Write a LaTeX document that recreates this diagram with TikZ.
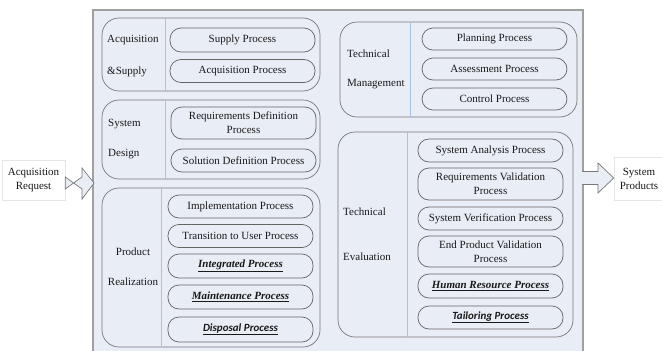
\documentclass[tikz,border=0pt]{standalone}
\usepackage{fontspec}
\setmainfont{Liberation Serif}
\newfontfamily\calib{Carlito}
\definecolor{bgblue}{RGB}{233,237,246}
\definecolor{divblue}{RGB}{168,194,228}
\definecolor{grpgray}{RGB}{120,120,120}
\definecolor{pillgray}{RGB}{100,100,100}
\definecolor{txt}{RGB}{25,25,25}
\tikzset{
  pill/.style={draw=pillgray, line width=0.7pt, rounded corners=11pt, minimum width=145pt,
    minimum height=23pt, inner sep=0pt, align=center, text=txt,
    font=\fontsize{11}{14}\selectfont},
  tallpill/.style={pill, minimum height=32pt},
  grp/.style={draw=grpgray, line width=0.7pt, rounded corners=17pt},
  divider/.style={draw=divblue, line width=0.7pt},
  glabel/.style={text=txt, inner sep=0pt, font=\fontsize{11}{14}\selectfont},
  blockarrow/.style={draw=grpgray, fill=bgblue, line width=0.7pt},
  sidebox/.style={draw=black!10, fill=white, line width=0.5pt, minimum width=63pt, minimum height=40pt,
    align=center, inner sep=0pt, text=txt, font=\fontsize{11}{14}\selectfont},
  emphp/.style={pill, font=\fontsize{11}{14}\selectfont\bfseries\itshape}
}
\begin{document}
\begin{tikzpicture}[x=1pt,y=-1pt]
\useasboundingbox (0,0) rectangle (662,351);
% main background
\fill[bgblue] (93,10) rectangle (583,360);
\draw[grpgray!70, line width=1.4pt] (93,360) -- (93,10) -- (583,10) -- (583,360);

% groups
\draw[grp] (102,18) rectangle (320,91);
\draw[divider] (165,18) -- (165,91);
\draw[grp] (102,100) rectangle (320,179);
\draw[divider] (165,100) -- (165,179);
\draw[grp] (102,188) rectangle (320,347);
\draw[divider] (161,188) -- (161,347);
\draw[grp] (340,22) rectangle (577,117);
\draw[divider] (410,22) -- (410,117);
\draw[grp] (338,132) rectangle (573,337);
\draw[divider] (407,132) -- (407,337);

% group labels
\node[glabel, anchor=west] (l1a) at (107,40) {Acquisition};
\node[glabel, anchor=west] (l1b) at (107,72) {\&Supply};
\node[glabel, anchor=west] (l2a) at (108,124) {System};
\node[glabel, anchor=west] (l2b) at (108,154) {Design};
\node[glabel] (l3a) at (133,252) {Product};
\node[glabel] (l3b) at (133,282) {Realization};
\node[glabel, anchor=west] (l4a) at (347,54) {Technical};
\node[glabel, anchor=west] (l4b) at (347,84) {Management};
\node[glabel, anchor=west] (l5a) at (343,212) {Technical};
\node[glabel, anchor=west] (l5b) at (343,257) {Evaluation};

% pills group 1
\node[pill, minimum height=24pt] (supply) at (242.5,40) {Supply Process};
\node[pill] (acq) at (242.5,71) {Acquisition Process};
% group 2
\node[tallpill] (reqdef) at (243.5,123) {Requirements Definition\\Process};
\node[pill] (soldef) at (243.5,160.5) {Solution Definition Process};
% group 3
\node[pill] (impl) at (240.5,206.5) {Implementation Process};
\node[pill] (trans) at (240.5,236) {Transition to User Process};
\node[emphp, minimum height=24pt] (integ) at (240.5,266) {\underline{Integrated Process}};
\node[emphp, minimum height=24pt] (maint) at (240.5,297) {\underline{Maintenance Process}};
\node[emphp, minimum height=25pt, font=\fontsize{11}{14}\calib\bfseries\itshape] (disp) at (240.5,329.5) {\underline{Disposal Process}};
% group 4
\node[pill, minimum height=22pt] (plan) at (494.5,39) {Planning Process};
\node[pill, minimum height=22pt] (assess) at (494.5,69) {Assessment Process};
\node[pill, minimum height=22pt] (ctrl) at (494.5,99) {Control Process};
% group 5
\node[pill] (sysan) at (490.5,150.5) {System Analysis Process};
\node[tallpill] (reqval) at (490.5,184) {Requirements Validation\\Process};
\node[pill] (sysver) at (490.5,218.5) {System Verification Process};
\node[tallpill, minimum height=31pt] (endprod) at (490.5,251.5) {End Product Validation\\Process};
\node[emphp, minimum height=24pt] (human) at (490.5,286) {\underline{Human Resource Process}};
\node[emphp, font=\fontsize{11}{14}\calib\bfseries\itshape] (tailor) at (490.5,317.5) {\underline{Tailoring Process}};

% side boxes
\node[sidebox] (inreq) at (33.5,180) {Acquisition\\Request};
\node[sidebox, minimum width=50pt, minimum height=43pt] (outprod) at (639,178.5) {System\\Products};

% block arrows
\coordinate (ainS) at (inreq.east |- 0,183);
\draw[blockarrow] ([yshift=-6pt]ainS) -- (82,177) -- (82,168) -- (94,183) -- (82,199) -- (82,189) -- ([yshift=6pt]ainS) -- cycle;
\coordinate (aoutE) at (outprod.west |- 0,178);
\draw[blockarrow] (582,171.5) -- (598,171.5) -- (598,163) -- (aoutE) -- (598,193) -- (598,184.5) -- (582,184.5);
\end{tikzpicture}
\end{document}
